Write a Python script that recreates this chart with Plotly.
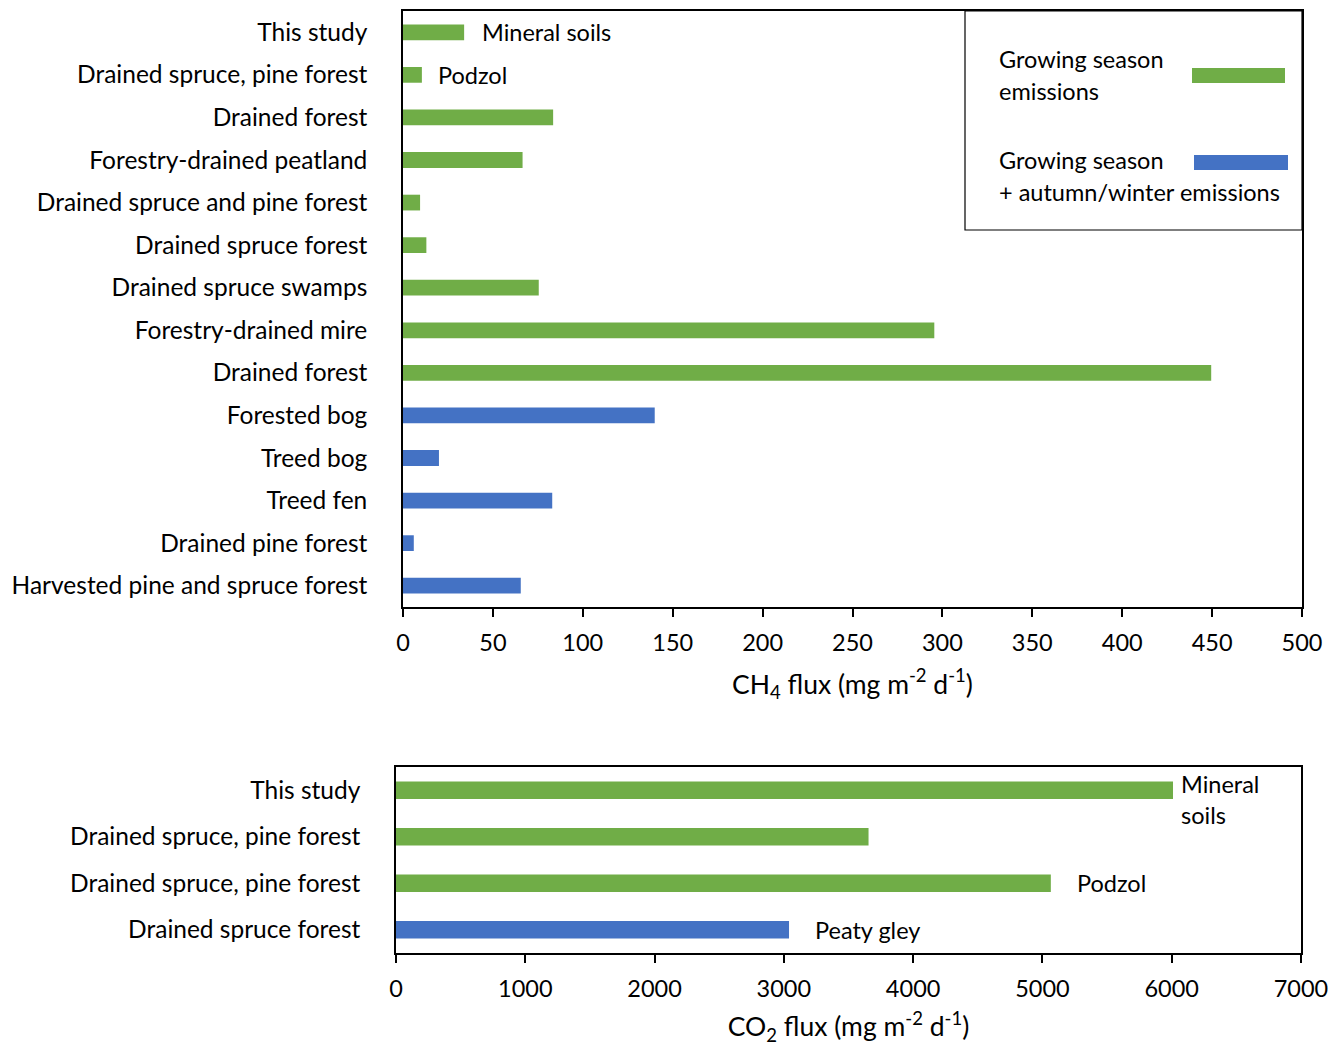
import plotly.graph_objects as go

# CH4 flux comparison (mg m-2 d-1)
ch4_labels = [
    "This study",
    "Drained spruce, pine forest",
    "Drained forest",
    "Forestry-drained peatland",
    "Drained spruce and pine forest",
    "Drained spruce forest",
    "Drained spruce swamps",
    "Forestry-drained mire",
    "Drained forest",
    "Forested bog",
    "Treed bog",
    "Treed fen",
    "Drained pine forest",
    "Harvested pine and spruce forest",
]
ch4_values = [34, 10.5, 83.5, 66.5, 9.5, 13, 75.5, 295.5, 449.5, 140, 20, 83, 6, 65.5]
ch4_season = ["g", "g", "g", "g", "g", "g", "g", "g", "g", "b", "b", "b", "b", "b"]

# CO2 flux comparison (mg m-2 d-1)
co2_labels = [
    "This study",
    "Drained spruce, pine forest",
    "Drained spruce, pine forest",
    "Drained spruce forest",
]
co2_values = [6010, 3655, 5065, 3040]
co2_season = ["g", "g", "g", "b"]

# Soil-type notes placed beside bars: (row offset, x position, text)
ch4_notes = [(0, 43, "Mineral soils"), (1, 18.5, "Podzol")]
co2_notes = [(0.2, 6060, "Mineral<br>soils"), (2, 5250, "Podzol"), (3, 3225, "Peaty gley")]

GREEN = "#70AD47"
BLUE = "#4472C4"
FONT = "Lato"
FS = 23.5
LABEL_FS = 24.5
TITLE_FS = 26.5
W, H = 1338, 1046

colors = {"g": GREEN, "b": BLUE}

fig = go.Figure()

fig.add_trace(go.Bar(
    x=ch4_values, y=list(range(len(ch4_values))), orientation="h",
    marker=dict(color=[colors[s] for s in ch4_season], line=dict(width=0)),
    width=0.37, xaxis="x", yaxis="y", showlegend=False,
))
fig.add_trace(go.Bar(
    x=co2_values, y=list(range(len(co2_values))), orientation="h",
    marker=dict(color=[colors[s] for s in co2_season], line=dict(width=0)),
    width=0.38, xaxis="x2", yaxis="y2", showlegend=False,
))

axis_common = dict(
    showline=True, linecolor="black", linewidth=1.6, mirror=True,
    showgrid=False, zeroline=False, automargin=False,
)
x_common = dict(
    ticks="outside", ticklen=8, tickcolor="black", tickwidth=1.5,
    ticklabelstandoff=6, tickfont=dict(family=FONT, size=FS, color="black"),
)
y_common = dict(
    ticks="", ticklabelstandoff=29,
    tickfont=dict(family=FONT, size=LABEL_FS, color="black"),
)

fig.update_layout(
    width=W, height=H,
    margin=dict(l=0, r=0, t=0, b=0),
    paper_bgcolor="white", plot_bgcolor="white",
    font=dict(family=FONT, size=FS, color="black"),
    xaxis=dict(
        domain=[403 / W, 1302 / W], anchor="y",
        range=[0, 500], tickvals=list(range(0, 501, 50)),
        title=dict(text="CH<sub>4</sub> flux (mg m<sup>-2</sup> d<sup>-1</sup>)",
                   font=dict(family=FONT, size=TITLE_FS, color="black"), standoff=20),
        **axis_common, **x_common,
    ),
    yaxis=dict(
        domain=[1 - 607 / H, 1 - 11 / H], anchor="x",
        range=[len(ch4_values) - 0.5, -0.5],
        tickvals=list(range(len(ch4_labels))), ticktext=ch4_labels,
        **axis_common, **y_common,
    ),
    xaxis2=dict(
        domain=[396 / W, 1301 / W], anchor="y2",
        range=[0, 7000], tickvals=list(range(0, 7001, 1000)),
        title=dict(text="CO<sub>2</sub> flux (mg m<sup>-2</sup> d<sup>-1</sup>)",
                   font=dict(family=FONT, size=TITLE_FS, color="black"), standoff=18),
        **axis_common, **x_common,
    ),
    yaxis2=dict(
        domain=[1 - 953 / H, 1 - 767 / H], anchor="x2",
        range=[len(co2_values) - 0.5, -0.5],
        tickvals=list(range(len(co2_labels))), ticktext=co2_labels,
        **axis_common, **y_common,
    ),
)

for row, xv, txt in ch4_notes:
    fig.add_annotation(x=xv, y=row, xref="x", yref="y", text=txt, showarrow=False,
                       xanchor="left", yanchor="middle",
                       font=dict(family=FONT, size=FS, color="black"))
for row, xv, txt in co2_notes:
    fig.add_annotation(x=xv, y=row, xref="x2", yref="y2", text=txt, showarrow=False,
                       xanchor="left", yanchor="middle", align="left",
                       font=dict(family=FONT, size=FS, color="black"))

# Legend box drawn inside the upper panel
fig.add_shape(type="rect", xref="paper", yref="paper",
              x0=965 / W, x1=1302 / W, y0=1 - 230 / H, y1=1 - 11 / H,
              line=dict(color="black", width=1.2), fillcolor="white")
fig.add_shape(type="rect", xref="paper", yref="paper",
              x0=1192 / W, x1=1285 / W, y0=1 - 83 / H, y1=1 - 68 / H,
              line=dict(width=0), fillcolor=GREEN)
fig.add_shape(type="rect", xref="paper", yref="paper",
              x0=1194 / W, x1=1288 / W, y0=1 - 170 / H, y1=1 - 155 / H,
              line=dict(width=0), fillcolor=BLUE)
legend_text = [
    (59, "Growing season"),
    (91, "emissions"),
    (160, "Growing season"),
    (192, "+ autumn/winter emissions"),
]
for ypix, txt in legend_text:
    fig.add_annotation(x=997 / W, y=1 - ypix / H, xref="paper", yref="paper",
                       text=txt, showarrow=False, xanchor="left", yanchor="middle",
                       font=dict(family=FONT, size=FS, color="black"))

fig.write_html("out.html", config={"responsive": False})
